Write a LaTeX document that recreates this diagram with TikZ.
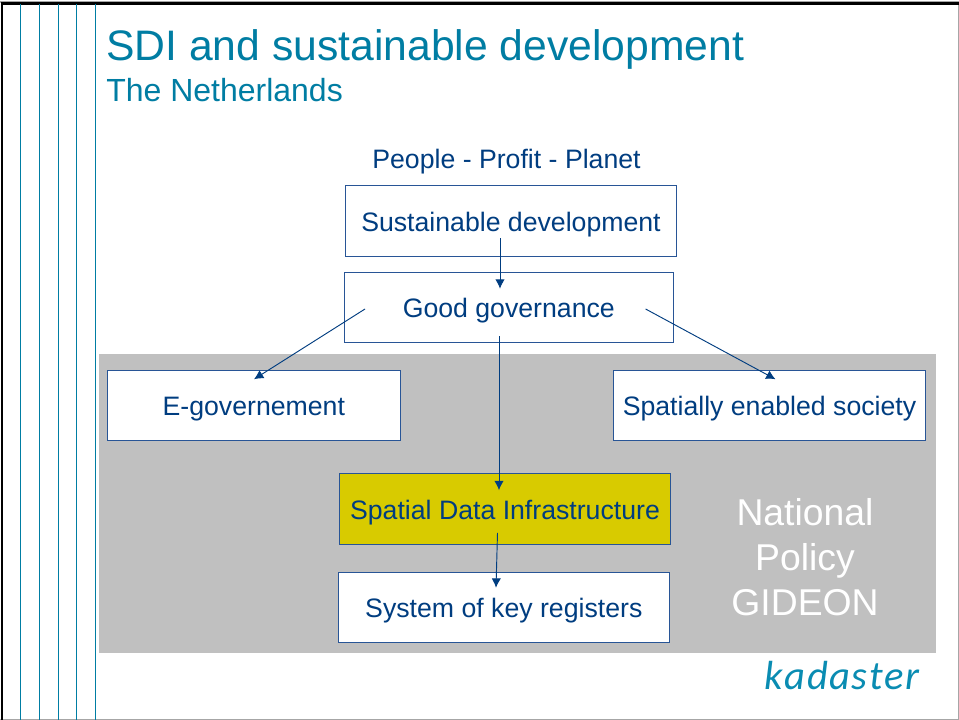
\documentclass[tikz,border=0pt]{standalone}
\usepackage{fontspec}
\setmainfont{Liberation Sans}
\newfontfamily\logofont{Carlito}
\usetikzlibrary{arrows.meta}
\definecolor{titleblue}{RGB}{0,125,163}
\definecolor{navy}{RGB}{0,61,128}
\definecolor{edgeblue}{RGB}{40,85,150}
\definecolor{panelgrey}{RGB}{192,192,192}
\definecolor{sdiyellow}{RGB}{216,203,0}
\definecolor{logoblue}{RGB}{10,140,178}
\tikzset{
	box/.style={draw=edgeblue, line width=0.7pt, fill=white, text=navy, inner sep=0pt, text height=15.3pt, text depth=0pt, font=\fontsize{20}{24}\selectfont},
	link/.style={draw=navy, line width=0.7pt, -{Latex[length=7pt,width=7pt]}},
	stripe/.style={draw=titleblue, line width=0.7pt}
}
\begin{document}
\begin{tikzpicture}[x=0.75pt,y=-0.75pt]
	\useasboundingbox (0,0) rectangle (959,720);
	\fill[white] (0,0) rectangle (959,720);

	% frame
	\draw[gray!70, line width=0.8pt] (0,2) -- (958.5,2) -- (958.5,719.5) -- (0,719.5);
	\draw[black, line width=1.8pt] (2,720) -- (2,3.5) -- (959,3.5);

	% stripes
	\draw[stripe] (20,4) -- (20,720);
	\draw[stripe] (39,4) -- (39,720);
	\draw[stripe] (58,4) -- (58,720);
	\draw[stripe] (76,4) -- (76,720);
	\draw[stripe] (95,4) -- (95,720);

	% headings
	\node[anchor=base west, inner sep=0pt, text=titleblue, font=\fontsize{32}{36}\selectfont] (title) at (106,60.5) {SDI and sustainable development};
	\node[anchor=base west, inner sep=0pt, text=titleblue, font=\fontsize{24}{28}\selectfont] (subtitle) at (106,101.5) {The Netherlands};

	\fill[panelgrey] (99,354) rectangle (936,653);

	\node[anchor=base, inner sep=0pt, text=navy, font=\fontsize{20}{24}\selectfont] (ppp) at (506.5,168.5) {People - Profit - Planet};

	% boxes
	\node[box, minimum width=248pt, minimum height=53.5pt] (sustain) at (511,221) {Sustainable development};
	\node[box, minimum width=246.5pt, minimum height=53pt] (govern) at (508.8,307.5) {Good governance};
	\node[box, minimum width=219.5pt, minimum height=52.5pt] (egov) at (253.8,405.7) {E-governement};
	\node[box, minimum width=233.5pt, minimum height=52.5pt] (society) at (769.5,405.7) {Spatially enabled society};
	\node[box, fill=sdiyellow, minimum width=248pt, minimum height=53pt] (sdi) at (505,509) {Spatial Data Infrastructure};
	\node[box, minimum width=248pt, minimum height=53pt] (registers) at (503.8,607.5) {System of key registers};

	% policy label
	\node[align=center, inner sep=0pt, text=white, font=\fontsize{28}{33.75}\selectfont] (policy) at (805,557) {National\\Policy\\GIDEON};

	% logo
	\node[anchor=base west, inner sep=0pt, text=logoblue, font=\logofont\itshape\fontsize{30.5}{36}\selectfont] (logo) at (764.5,689) {k\kern1.1pt a\kern1.1pt d\kern1.1pt a\kern1.1pt s\kern1.1pt t\kern1.1pt e\kern1.1pt r};

	% arrows
	\draw[link] ([shift={(-11,-19)}]sustain.south) -- ([shift={(-8.8,17)}]govern.north);
	\draw[link] ([shift={(21,1.5)}]govern.west) -- ([shift={(0.2,9)}]egov.north);
	\draw[link] ([shift={(-28,1.5)}]govern.east) -- ([shift={(6,9)}]society.north);
	\draw[link] ([shift={(-9.8,-7)}]govern.south) -- ([shift={(-6,17)}]sdi.north);
	\draw[link] ([shift={(-7.5,-12)}]sdi.south) -- ([shift={(-7.8,16)}]registers.north);
\end{tikzpicture}
\end{document}
